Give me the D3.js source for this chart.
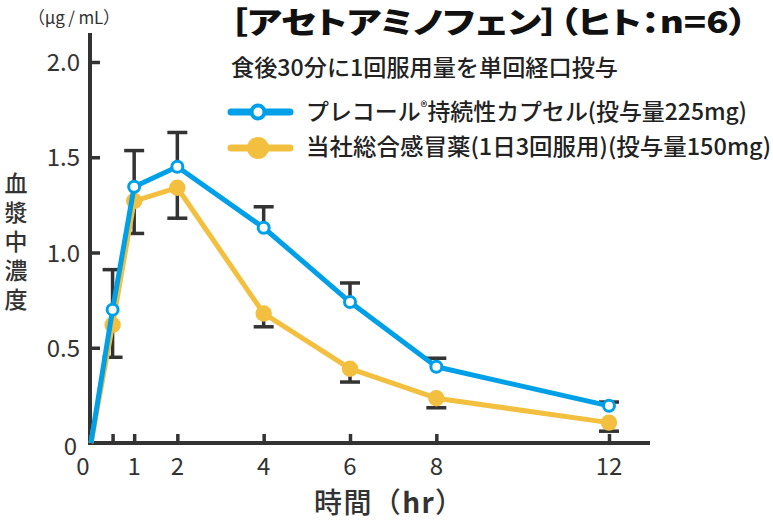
<!DOCTYPE html>
<html>
<head>
<meta charset="utf-8">
<script src="https://cdn.jsdelivr.net/npm/d3@7"></script>
<style>
  body { margin: 0; background: #fff; }
  svg { display: block; font-family: "Noto Sans CJK JP", "Noto Sans", sans-serif; }
</style>
</head>
<body>
<div id="chart"></div>
<script>
// data
var hours = [0, 0.5, 1, 2, 4, 6, 8, 12];
var precolMean = [0, 0.70, 1.345, 1.45, 1.13, 0.74, 0.40, 0.195];
var precolSD = [null, 0.21, 0.19, 0.18, 0.11, 0.10, 0.045, 0.02];
var coldMean = [0, 0.62, 1.27, 1.34, 0.68, 0.39, 0.235, 0.107];
var coldSD = [null, 0.17, 0.17, 0.16, 0.07, 0.07, 0.05, 0.045];

var xTicks = [0.5, 1, 2, 4, 6, 8, 12];
var xTickLabels = [0, 1, 2, 4, 6, 8, 12];
var yTicks = [0.5, 1.0, 1.5, 2.0];
var yTickLabels = [0, 0.5, 1.0, 1.5, 2.0];

var titleText = "［アセトアミノフェン］（ヒト：n=6）";
var subtitleText = "食後30分に1回服用量を単回経口投与";
var seriesNames = ["プレコール", "当社総合感冒薬(1日3回服用)(投与量150mg)"];
var yTitle = "血漿中濃度";

var width = 773, height = 520;
var dark = "#333";
var blue = "#00a0e9";
var yellow = "#f3bf3f";

var svg = d3.select("#chart").append("svg")
    .attr("width", width)
    .attr("height", height);

var x = d3.scaleLinear().domain([0, 12]).range([91, 609]);
var y = d3.scaleLinear().domain([0, 2]).range([443, 62]);

var precol = hours.map((h, i) => ({h: h, v: precolMean[i], sd: precolSD[i]}));
var cold = hours.map((h, i) => ({h: h, v: coldMean[i], sd: coldSD[i]}));

// axes
var xAxis = svg.append("g")
    .attr("transform", `translate(0,${y(0)})`)
    .call(d3.axisBottom(x).tickValues(xTicks).tickSize(-9).tickSizeOuter(0).tickFormat(""));
xAxis.select(".domain").remove();
xAxis.selectAll("line").attr("stroke", dark).attr("stroke-width", 3.5);

var yAxis = svg.append("g")
    .attr("transform", `translate(${x(0) - 1},0)`)
    .call(d3.axisLeft(y).tickValues(yTicks).tickSize(-10).tickSizeOuter(0).tickFormat(""));
yAxis.select(".domain").remove();
yAxis.selectAll("line").attr("stroke", dark).attr("stroke-width", 3.5);

svg.append("line")
    .attr("x1", x(0) - 1).attr("x2", x(0) - 1)
    .attr("y1", 33).attr("y2", y(0) + 2)
    .attr("stroke", dark).attr("stroke-width", 4);
svg.append("line")
    .attr("x1", x(0) - 3).attr("x2", 650)
    .attr("y1", y(0)).attr("y2", y(0))
    .attr("stroke", dark).attr("stroke-width", 4);

svg.append("g").selectAll("text")
    .data(xTickLabels)
    .enter().append("text")
    .attr("x", d => d == 0 ? x(0) - 8 : x(d))
    .attr("y", y(0) + 32)
    .attr("text-anchor", "middle")
    .attr("font-size", 24)
    .attr("fill", dark)
    .text(d => d);

svg.append("g").selectAll("text")
    .data(yTickLabels)
    .enter().append("text")
    .attr("x", d => d == 0 ? 77 : 80)
    .attr("y", d => d == 0 ? y(d) + 12 : y(d) + 9)
    .attr("text-anchor", "end")
    .attr("font-size", 24)
    .attr("fill", dark)
    .text(d => d == 0 ? "0" : d3.format(".1f")(d));

// unit + axis titles
svg.append("text")
    .attr("x", 28).attr("y", 24)
    .attr("font-size", 17)
    .attr("fill", dark)
    .attr("textLength", 92)
    .attr("lengthAdjust", "spacing")
    .text("（μg / mL）");

svg.append("text")
    .attr("x", 16).attr("y", 172)
    .attr("writing-mode", "vertical-rl")
    .attr("font-size", 23)
    .attr("letter-spacing", 6)
    .attr("font-weight", 500)
    .attr("fill", dark)
    .text(yTitle);

var xTitle = svg.append("text")
    .attr("x", 314).attr("y", 513)
    .attr("font-size", 28)
    .attr("font-weight", 500)
    .attr("fill", dark)
    .attr("textLength", 149)
    .attr("lengthAdjust", "spacing");
xTitle.append("tspan").text("時間（");
xTitle.append("tspan").attr("font-weight", 700).text("hr");
xTitle.append("tspan").text("）");

// error bars: upward for precol, downward for cold
function errorBars(data, dir) {
    var g = svg.append("g").attr("stroke", dark).attr("stroke-width", 3.5);
    var pts = data.filter(d => d.sd != null);
    g.selectAll("line.v").data(pts).enter().append("line")
        .attr("x1", d => x(d.h)).attr("x2", d => x(d.h))
        .attr("y1", d => y(d.v))
        .attr("y2", d => y(d.v + dir * d.sd));
    g.selectAll("line.c").data(pts).enter().append("line")
        .attr("x1", d => x(d.h) - 10).attr("x2", d => x(d.h) + 10)
        .attr("y1", d => y(d.v + dir * d.sd))
        .attr("y2", d => y(d.v + dir * d.sd));
}
errorBars(precol, 1);
errorBars(cold, -1);

var line = d3.line().x(d => x(d.h)).y(d => y(d.v));

svg.append("path")
    .datum(cold)
    .attr("d", line)
    .attr("fill", "none")
    .attr("stroke", yellow)
    .attr("stroke-width", 5)
    .attr("stroke-linejoin", "round");
svg.append("g").selectAll("circle")
    .data(cold.filter(d => d.h > 0))
    .enter().append("circle")
    .attr("cx", d => x(d.h)).attr("cy", d => y(d.v))
    .attr("r", 8.2)
    .attr("fill", yellow);

svg.append("path")
    .datum(precol)
    .attr("d", line)
    .attr("fill", "none")
    .attr("stroke", blue)
    .attr("stroke-width", 5)
    .attr("stroke-linejoin", "round");
svg.append("g").selectAll("circle")
    .data(precol.filter(d => d.h > 0))
    .enter().append("circle")
    .attr("cx", d => x(d.h)).attr("cy", d => y(d.v))
    .attr("r", 5.5)
    .attr("fill", "#fff")
    .attr("stroke", blue)
    .attr("stroke-width", 3);

// title block
svg.append("text")
    .attr("x", 229).attr("y", 33)
    .attr("font-size", 30)
    .attr("font-weight", 900)
    .attr("fill", "#111")
    .style("font-feature-settings", "'palt'")
    .attr("textLength", 518)
    .attr("lengthAdjust", "spacingAndGlyphs")
    .text(titleText);

svg.append("text")
    .attr("x", 231).attr("y", 76)
    .attr("font-size", 23)
    .attr("font-weight", 500)
    .attr("fill", "#222")
    .attr("textLength", 387)
    .attr("lengthAdjust", "spacingAndGlyphs")
    .text(subtitleText);

// legend
var legendRows = [
    {y: 112, color: blue, open: true},
    {y: 148, color: yellow, open: false}
];
var lg = svg.append("g");
lg.selectAll("line").data(legendRows).enter().append("line")
    .attr("x1", 231).attr("x2", 290)
    .attr("y1", d => d.y).attr("y2", d => d.y)
    .attr("stroke", d => d.color)
    .attr("stroke-width", 7)
    .attr("stroke-linecap", "round");
lg.selectAll("circle").data(legendRows).enter().append("circle")
    .attr("cx", 258).attr("cy", d => d.y)
    .attr("r", d => d.open ? 6.5 : 11)
    .attr("fill", d => d.open ? "#fff" : d.color)
    .attr("stroke", d => d.open ? d.color : "none")
    .attr("stroke-width", 4);

var t1 = lg.append("text")
    .attr("x", 306).attr("y", 120)
    .attr("font-size", 23)
    .attr("font-weight", 500)
    .attr("fill", "#222")
    .attr("textLength", 441)
    .attr("lengthAdjust", "spacingAndGlyphs");
t1.append("tspan").text(seriesNames[0]);
t1.append("tspan").attr("font-size", 14).attr("dy", -8).text("®");
t1.append("tspan").attr("dy", 8).text("持続性カプセル(投与量225mg)");

lg.append("text")
    .attr("x", 306).attr("y", 155)
    .attr("font-size", 23)
    .attr("font-weight", 500)
    .attr("fill", "#222")
    .attr("textLength", 465)
    .attr("lengthAdjust", "spacingAndGlyphs")
    .text(seriesNames[1]);
</script>
</body>
</html>
